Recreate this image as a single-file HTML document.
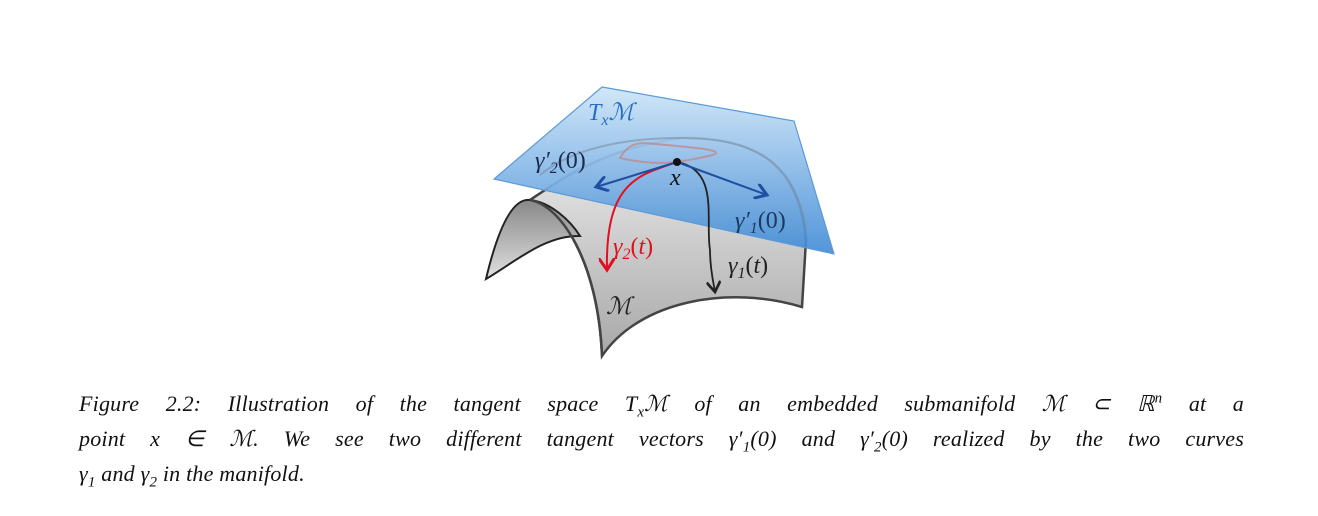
<!DOCTYPE html>
<html><head><meta charset="utf-8">
<style>
body{margin:0;background:#fff;width:1318px;height:516px;overflow:hidden;position:relative;font-family:"Liberation Serif",serif}
.cap{position:absolute;left:79px;width:1165px;font-style:italic;font-size:22px;letter-spacing:0.2px;color:#111;white-space:nowrap;text-align:justify;text-align-last:justify;line-height:1}
.last{text-align-last:left}
sub,sup{font-size:15px;line-height:0}
</style></head><body>
<svg width="1318" height="380" style="position:absolute;left:0;top:0">
<defs>
<linearGradient id="sg" x1="0" y1="0" x2="0" y2="1"><stop offset="0" stop-color="#eee"/><stop offset="1" stop-color="#a8a8a8"/></linearGradient>
<linearGradient id="ig" x1="0" y1="0" x2="0" y2="1"><stop offset="0" stop-color="#888"/><stop offset="1" stop-color="#e0e0e0"/></linearGradient>
<linearGradient id="pg" x1="0" y1="0" x2="0" y2="1"><stop offset="0" stop-color="#cfe6f8" stop-opacity="0.95"/><stop offset="1" stop-color="#3f8ad6" stop-opacity="0.9"/></linearGradient>
<marker id="ab" markerWidth="8" markerHeight="8" refX="6" refY="4" orient="auto"><path d="M0,0 L6,4 L0,8" fill="none" stroke="#1f4fa0" stroke-width="1.5"/></marker>
<marker id="ar" markerWidth="8" markerHeight="8" refX="6" refY="4" orient="auto"><path d="M0,0 L6,4 L0,8" fill="none" stroke="#e01020" stroke-width="1.5"/></marker>
<marker id="ak" markerWidth="8" markerHeight="8" refX="6" refY="4" orient="auto"><path d="M0,0 L6,4 L0,8" fill="none" stroke="#222" stroke-width="1.5"/></marker>
</defs>
<g>
<path d="M530,200 C560,180 600,150 680,138 C760,135 800,170 806,240 L802,307 C730,285 640,300 602,356 C598,260 560,205 530,200 Z" fill="url(#sg)" stroke="#444" stroke-width="2.5"/>
<path d="M486,279 C500,220 515,198 530,200 C550,202 570,220 580,236 C545,235 515,262 486,279 Z" fill="url(#ig)" stroke="#222" stroke-width="2"/>
<path d="M530,200 C560,205 598,260 602,356" fill="none" stroke="#444" stroke-width="2.5"/>
</g>
<polygon points="602,87 794,121 834,254 494,179" fill="url(#pg)" stroke="#5a9ad8" stroke-width="1.2"/>
<path d="M540,175 C570,150 620,138 680,138 C760,138 795,165 806,230" fill="none" stroke="#7a8a9a" stroke-width="2" opacity="0.55"/>
<path d="M677,162 C650,165 630,160 620,158 C625,150 630,143 645,143 C700,148 725,150 713,155 C700,158 690,160 677,162" fill="none" stroke="#c08a90" stroke-width="2" opacity="0.8"/>
<path d="M677,162 C640,175 605,180 607,270" fill="none" stroke="#e01020" stroke-width="2" marker-end="url(#ar)"/>
<path d="M677,162 C720,170 705,220 710,250 C710,270 714,285 715,292" fill="none" stroke="#222" stroke-width="1.8" marker-end="url(#ak)"/>
<line x1="677" y1="162" x2="596" y2="187" stroke="#1f4fa0" stroke-width="2" marker-end="url(#ab)"/>
<line x1="677" y1="162" x2="767" y2="195" stroke="#1f4fa0" stroke-width="2" marker-end="url(#ab)"/>
<circle cx="677" cy="162" r="4" fill="#111"/>
<g font-family="Liberation Serif,serif" font-style="italic" font-size="24">
<text x="588" y="120" fill="#2a6fc0">T<tspan font-size="16" dy="5">x</tspan><tspan dy="-5">ℳ</tspan></text>
<text x="535" y="168" fill="#1a2a50">γ′<tspan font-size="16" dy="5">2</tspan><tspan dy="-5" font-style="normal">(0)</tspan></text>
<text x="670" y="185" fill="#111">x</text>
<text x="735" y="228" fill="#1a3a60">γ′<tspan font-size="16" dy="5">1</tspan><tspan dy="-5" font-style="normal">(0)</tspan></text>
<text x="613" y="254" fill="#e01020">γ<tspan font-size="16" dy="5">2</tspan><tspan dy="-5" font-style="normal">(</tspan>t<tspan font-style="normal">)</tspan></text>
<text x="728" y="273" fill="#222">γ<tspan font-size="16" dy="5">1</tspan><tspan dy="-5" font-style="normal">(</tspan>t<tspan font-style="normal">)</tspan></text>
<text x="606" y="314" fill="#222">ℳ</text>
</g>
</svg>
<div class="cap" style="top:393px">Figure 2.2: Illustration of the tangent space T<sub>x</sub>ℳ of an embedded submanifold ℳ ⊂ ℝ<sup>n</sup> at a</div>
<div class="cap" style="top:428px">point x ∈ ℳ. We see two different tangent vectors γ′<sub>1</sub>(0) and γ′<sub>2</sub>(0) realized by the two curves</div>
<div class="cap last" style="top:463px">γ<sub>1</sub> and γ<sub>2</sub> in the manifold.</div>
</body></html>
